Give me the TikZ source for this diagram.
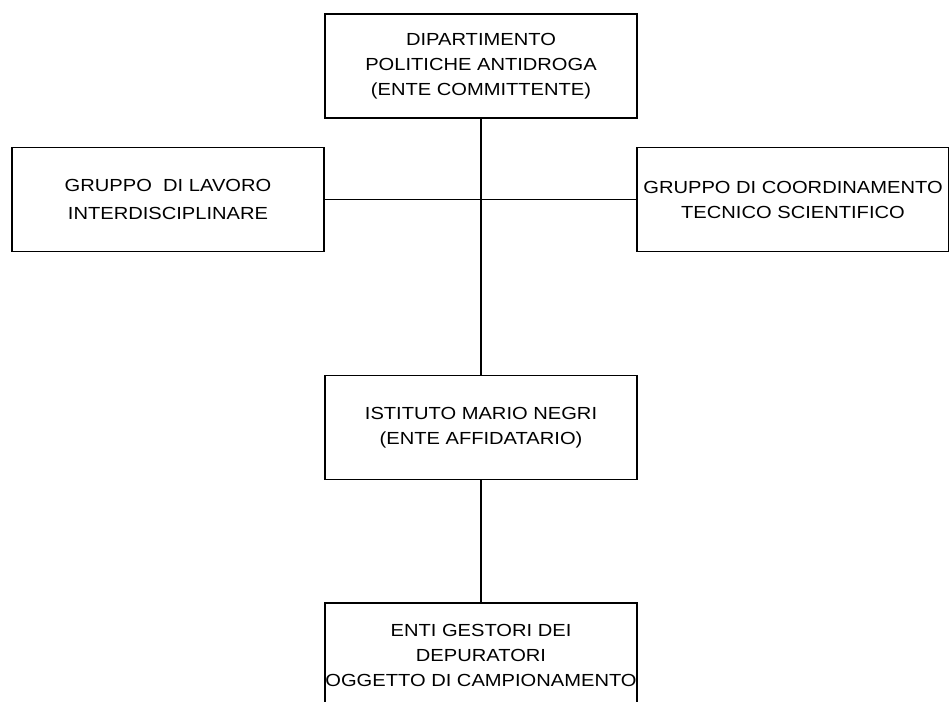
\documentclass[tikz,border=0pt]{standalone}
\usepackage{fontspec}
\setmainfont{Liberation Sans}[FakeStretch=1.15]
\usepackage{tikz}

\begin{document}
\begin{tikzpicture}[x=1pt,y=-1pt,
        font=\fontsize{17.5}{25}\selectfont,
        every node/.style={draw,rectangle,line width=1.1pt,align=center,inner sep=0pt,
                           minimum width=312pt,minimum height=104pt},
        link/.style={line width=1.1pt}]

    \useasboundingbox (0,0) rectangle (949,701);

    \node (dip)    at (481,66)    {DIPARTIMENTO\\POLITICHE ANTIDROGA\\(ENTE COMMITTENTE)};
    \node (lavoro) at (168,199.5) {GRUPPO~ DI LAVORO\\[3pt]INTERDISCIPLINARE};
    \node (coord)  at (793,199.5) {GRUPPO DI COORDINAMENTO\\TECNICO SCIENTIFICO};
    \node (negri)  at (481,427.5) {ISTITUTO MARIO NEGRI\\(ENTE AFFIDATARIO)};
    \node (enti)   at (481,655)   {ENTI GESTORI DEI\\DEPURATORI\\OGGETTO DI CAMPIONAMENTO};

    \draw[link] (dip.south) -- (negri.north);
    \draw[link] (lavoro.east) -- (coord.west);
    \draw[link] (negri.south) -- (enti.north);
\end{tikzpicture}
\end{document}
